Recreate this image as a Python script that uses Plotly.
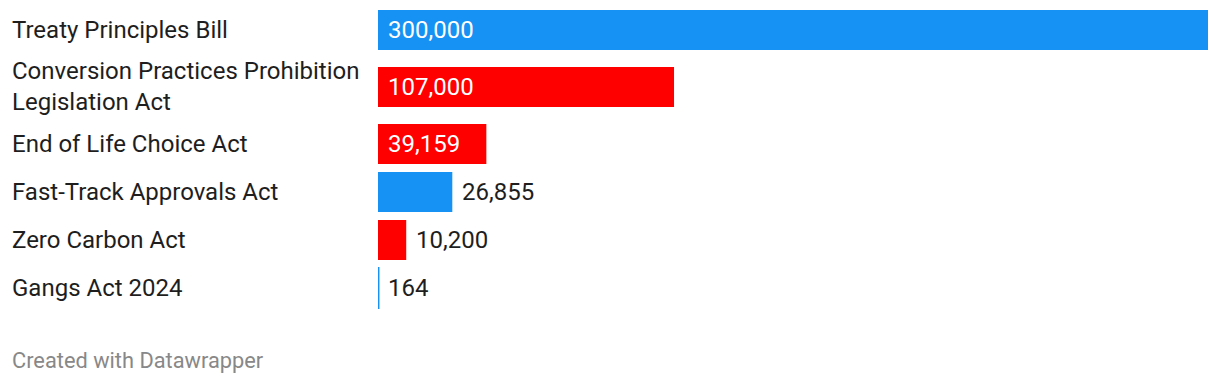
import plotly.graph_objects as go

categories = ["Treaty Principles Bill", "Conversion Practices Prohibition<br>Legislation Act",
              "End of Life Choice Act", "Fast-Track Approvals Act", "Zero Carbon Act", "Gangs Act 2024"]
values = [300000, 107000, 39159, 26855, 10200, 164]
colors = ["#1592f3", "#ff0000", "#ff0000", "#1592f3", "#ff0000", "#1592f3"]
footer = "Created with Datawrapper"

W, H = 1220, 384
X0, X1 = 378, 1208
XMAX = 300000
FONT = "Roboto"

# row centers computed from label line counts
centers = []
top = 6
for c in categories:
    lines = c.count("<br>") + 1
    rh = 48 + 18 * (lines - 1)
    centers.append(top + rh / 2)
    top += rh

fig = go.Figure()
fig.add_trace(go.Bar(
    x=values, y=centers, orientation="h", width=40,
    marker=dict(color=colors, line=dict(color=colors, width=[0, 0, 0, 0, 0, 2])),
    hoverinfo="skip",
))

annotations = []
for c, v, yc in zip(categories, values, centers):
    annotations.append(dict(x=10 / W, xref="paper", y=yc - 0.5, yref="y", text=c, showarrow=False,
                            xanchor="left", yanchor="middle", align="left",
                            font=dict(family=FONT, size=24, color="#1e1e1e")))
    inside = v / XMAX * (X1 - X0) > 100
    annotations.append(dict(x=0 if inside else v, xref="x", y=yc, yref="y", text=f"{v:,}",
                            showarrow=False, xanchor="left", yanchor="middle", xshift=8,
                            font=dict(family=FONT, size=24, color="#ffffff" if inside else "#1e1e1e")))

annotations.append(dict(x=10 / W, xref="paper", y=360, yref="y", text=footer,
                        showarrow=False, xanchor="left", yanchor="middle",
                        font=dict(family=FONT, size=21.8, color="#888888")))

fig.update_layout(
    width=W, height=H, margin=dict(l=0, r=0, t=0, b=0),
    paper_bgcolor="white", plot_bgcolor="white", showlegend=False,
    xaxis=dict(domain=[X0 / W, X1 / W], range=[0, XMAX], visible=False, fixedrange=True),
    yaxis=dict(range=[H, 0], visible=False, fixedrange=True),
    annotations=annotations,
)

fig.write_html("out.html", config={"displayModeBar": False},
               post_script="document.body.style.margin='0';document.body.style.overflow='hidden';")
